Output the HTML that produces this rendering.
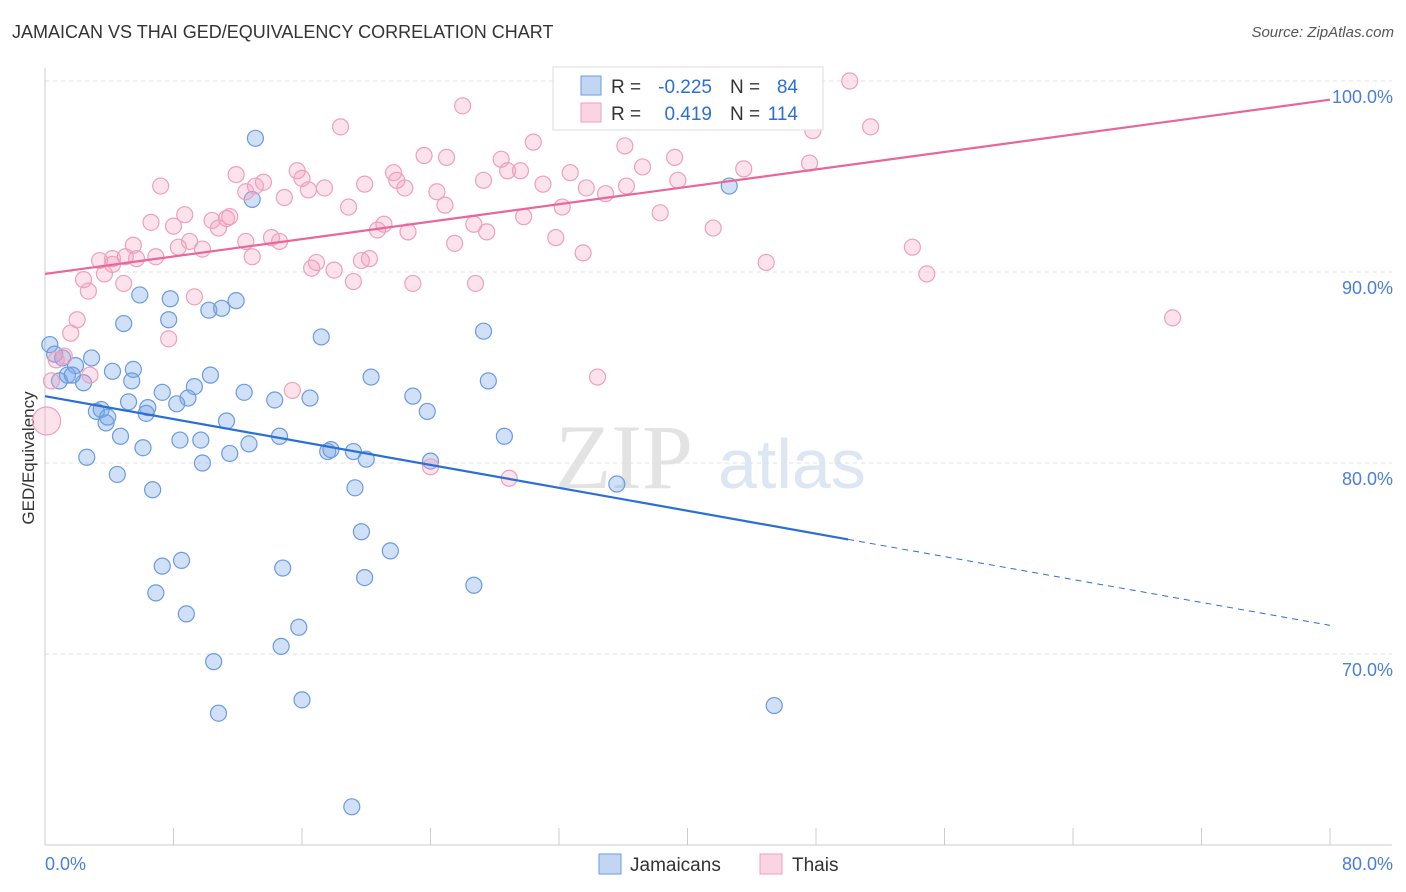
<!DOCTYPE html>
<html><head><meta charset="utf-8">
<style>
body{margin:0;background:#fff;font-family:"Liberation Sans",sans-serif;}
#wrap{position:relative;width:1406px;height:892px;overflow:hidden;}
.t{position:absolute;white-space:nowrap;}
</style></head>
<body>
<div id="wrap">
<div class="t" style="left:12px;top:22px;font-size:18px;color:#333;">JAMAICAN VS THAI GED/EQUIVALENCY CORRELATION CHART</div>
<div class="t" style="right:12px;top:24px;font-size:15px;color:#555;font-style:italic;">Source: ZipAtlas.com</div>
<svg id="svg" width="1406" height="892" style="position:absolute;left:0;top:0"></svg>
</div>
<script>
const blueX=[13.1,12.9,42.6,5.9,7.8,11.9,10.2,11.0,7.7,4.9,17.2,27.3,0.3,0.6,1.1,2.9,1.9,1.4,2.4,4.2,5.5,5.4,10.3,9.3,20.3,27.6,7.3,8.9,8.2,12.4,14.3,16.5,22.9,23.8,5.2,6.4,6.3,3.2,3.5,3.8,3.9,11.3,4.7,8.4,9.7,14.6,12.7,28.6,6.1,17.6,17.8,19.2,20.0,24.0,2.6,11.5,9.8,4.5,6.7,19.3,35.6,19.7,21.5,8.5,7.3,14.8,19.9,26.7,6.9,8.8,15.8,14.7,10.5,16.0,10.8,45.4,19.1,0.9,1.7];
const blueY=[97.0,93.8,94.5,88.8,88.6,88.5,88.0,88.1,87.5,87.3,86.6,86.9,86.2,85.7,85.5,85.5,85.1,84.6,84.2,84.8,84.9,84.3,84.6,84.0,84.5,84.3,83.7,83.4,83.1,83.7,83.3,83.4,83.5,82.7,83.2,82.9,82.6,82.7,82.8,82.1,82.4,82.2,81.4,81.2,81.2,81.4,81.0,81.4,80.8,80.6,80.7,80.6,80.2,80.1,80.3,80.5,80.0,79.4,78.6,78.7,78.9,76.4,75.4,74.9,74.6,74.5,74.0,73.6,73.2,72.1,71.4,70.4,69.6,67.6,66.9,67.3,62.0,84.3,84.6];
const pinkX=[50.1,26.0,38.2,33.3,18.4,51.4,47.8,47.3,30.4,36.1,23.6,25.0,39.2,28.4,28.8,29.6,32.7,37.2,43.5,47.6,15.7,11.9,13.6,16.0,21.7,27.3,39.4,7.2,12.5,13.1,17.4,19.9,21.9,22.4,24.4,31.0,33.7,34.9,36.2,14.9,16.4,18.9,24.9,32.2,38.3,8.7,6.6,8.0,10.4,11.3,11.5,10.8,12.5,14.1,14.6,20.7,21.1,22.6,26.7,27.5,29.8,41.6,31.8,5.5,9.0,9.8,8.3,25.5,54.0,4.2,5.0,6.9,3.4,4.2,5.7,12.9,16.9,18.0,16.6,19.7,20.2,33.5,44.9,2.4,3.7,2.7,4.9,9.3,19.2,22.9,26.8,54.9,2.0,1.6,7.7,70.2,0.7,1.2,2.8,15.4,34.4,24.0,28.9,0.1,0.4];
const pinkY=[100.0,98.7,99.0,98.6,97.6,97.6,97.4,98.1,96.8,96.6,96.1,96.0,96.0,95.9,95.3,95.3,95.2,95.5,95.4,95.7,95.3,95.1,94.7,94.9,95.2,94.8,94.8,94.5,94.2,94.5,94.4,94.6,94.8,94.4,94.2,94.6,94.4,94.1,94.5,93.9,94.3,93.4,93.5,93.4,93.1,93.0,92.6,92.4,92.7,92.8,92.9,92.3,91.6,91.8,91.6,92.2,92.5,92.1,92.5,92.1,92.9,92.3,91.8,91.4,91.6,91.2,91.3,91.5,91.3,90.7,90.8,90.8,90.6,90.4,90.7,90.8,90.5,90.1,90.2,90.6,90.7,91.0,90.5,89.6,89.9,89.0,89.4,88.7,89.5,89.4,89.4,89.9,87.5,86.8,86.5,87.6,85.4,85.6,84.6,83.8,84.5,79.8,79.2,82.2,84.3];
const blueTrend=[83.5,-0.15]; // intercept, slope
const blueSolidEnd=50;
const pinkTrend=[89.9,0.114];
const yTicks=[100,90,80,70];
const yTickLabels=["100.0%","90.0%","80.0%","70.0%"];
const xTicks=[0,8,16,24,32,40,48,56,64,72,80];

const NS="http://www.w3.org/2000/svg";
const svg=document.getElementById('svg');
const X0=45,X1=1330;
const xs=v=>X0+(v/80)*(X1-X0);
const ys=v=>81+(100-v)*19.1;
function mk(t,a,p){const e=document.createElementNS(NS,t);for(const k in a)e.setAttribute(k,a[k]);(p||svg).appendChild(e);return e;}

// watermark
let wm=mk('text',{x:555,y:488,'font-size':92,fill:'#e3e3e3','font-family':'Liberation Serif,serif'});wm.textContent='ZIP';

let wm2=mk('text',{x:718,y:488,'font-size':70,fill:'#dde6f3','font-family':'Liberation Sans,sans-serif'});wm2.textContent='atlas';


// grid
yTicks.forEach((v,i)=>{
 const g=mk('line',{x1:X0,x2:1392,y1:ys(v),y2:ys(v),stroke:'#e2e2e2','stroke-dasharray':'4,4'});
 
 const t=mk('text',{x:1393,y:ys(v)+22,'text-anchor':'end','font-size':18,fill:'#4a7fd4'});t.textContent=yTickLabels[i];
 
});
// axes
let ax=mk('line',{x1:X0,x2:X0,y1:68,y2:845,stroke:'#ccc'});
let bx=mk('line',{x1:X0,x2:1392,y1:845,y2:845,stroke:'#ccc'});
xTicks.forEach(v=>{const l=mk('line',{x1:xs(v),x2:xs(v),y1:828,y2:845,stroke:'#ccc'});});
let xl0=mk('text',{x:45,y:870,'font-size':18,fill:'#4a7fd4'});xl0.textContent='0.0%';
let xl1=mk('text',{x:1393,y:870,'text-anchor':'end','font-size':18,fill:'#4a7fd4'});xl1.textContent='80.0%';
let yt=mk('text',{x:34,y:458,'font-size':17,fill:'#333','text-anchor':'middle',transform:'rotate(-90 34 458)'});yt.textContent='GED/Equivalency';

// points
function pts(xa,ya,fill,stroke,name){
 xa.forEach((x,i)=>{
  const big=(x<0.5&&ya[i]>82&&ya[i]<82.5);
  const c=mk('circle',{cx:xs(x),cy:ys(ya[i]),r:big?14:8,fill:fill,stroke:stroke,'stroke-width':1.2});
  
  
 });
}
pts(blueX,blueY,'rgba(120,165,230,0.35)','#6a9be0','jamaican-point');
pts(pinkX,pinkY,'rgba(245,160,190,0.3)','#eda0ba','thai-point');

// trend lines
const bl=mk('line',{x1:xs(0),y1:ys(blueTrend[0]),x2:xs(blueSolidEnd),y2:ys(blueTrend[0]+blueTrend[1]*blueSolidEnd),stroke:'#2a6fd6','stroke-width':2.2});

const bd=mk('line',{x1:xs(blueSolidEnd),y1:ys(blueTrend[0]+blueTrend[1]*blueSolidEnd),x2:xs(80),y2:ys(blueTrend[0]+blueTrend[1]*80),stroke:'#2a6fd6','stroke-width':1,'stroke-dasharray':'6,5'});

const pl=mk('line',{x1:xs(0),y1:ys(pinkTrend[0]),x2:xs(80),y2:ys(pinkTrend[0]+pinkTrend[1]*80),stroke:'#e8679a','stroke-width':2.2});


// top legend
const lg=mk('g',{});
mk('rect',{x:553,y:67,width:270,height:63,fill:'#fff',stroke:'#ddd'},lg);
mk('rect',{x:581,y:76,width:20,height:19,fill:'rgba(120,165,230,0.45)',stroke:'#6a9be0'},lg);
mk('rect',{x:581,y:103,width:20,height:19,fill:'rgba(245,160,190,0.45)',stroke:'#eda0ba'},lg);
function lt(x,y,s,c,a){const t=mk('text',{x:x,y:y,'font-size':19,fill:c,'text-anchor':a||'start'},lg);t.textContent=s;return t;}
lt(611,93,'R =','#333');lt(712,93,'-0.225','#2a6fd6','end');lt(730,93,'N =','#333');lt(798,93,'84','#2a6fd6','end');
lt(611,120,'R =','#333');lt(712,120,'0.419','#2a6fd6','end');lt(730,120,'N =','#333');lt(798,120,'114','#2a6fd6','end');

// bottom legend
const bg=mk('g',{});
mk('rect',{x:599,y:854,width:22,height:20,fill:'rgba(120,165,230,0.45)',stroke:'#6a9be0'},bg);
let b1=mk('text',{x:630,y:871,'font-size':19,fill:'#333'},bg);b1.textContent='Jamaicans';
mk('rect',{x:760,y:854,width:22,height:20,fill:'rgba(245,160,190,0.45)',stroke:'#eda0ba'},bg);
let b2=mk('text',{x:792,y:871,'font-size':19,fill:'#333'},bg);b2.textContent='Thais';
</script>
</body></html>
